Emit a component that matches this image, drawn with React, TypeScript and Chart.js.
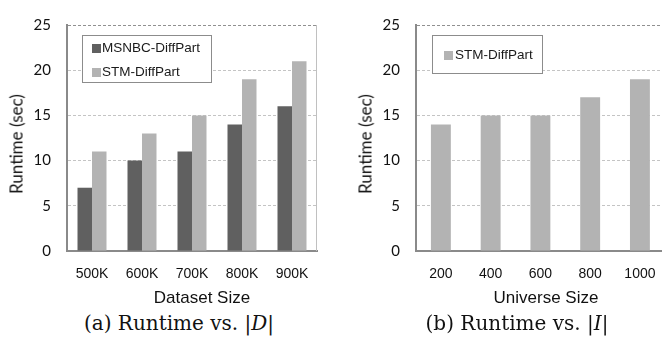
import React, { useEffect, useRef } from "react";
import { Chart, registerables } from "chart.js";

Chart.register(...registerables);

// ---- data ----
const datasetSizes = ["500K", "600K", "700K", "800K", "900K"];
const msnbcBySize = [7, 10, 11, 14, 16];
const stmBySize = [11, 13, 15, 19, 21];
const universeSizes = ["200", "400", "600", "800", "1000"];
const stmByUniverse = [14, 15, 15, 17, 19];
const yMin = 0;
const yMax = 25;
const yStep = 5;

const DARK = "#606060";
const LIGHT = "#b3b3b3";

const boxLegend = {
  id: "boxLegend",
  afterDraw(chart: any, _args: any, opts: any) {
    if (!opts || !opts.show) return;
    const { ctx, chartArea } = chart;
    const x = Math.round(chartArea.left + opts.dx);
    const y = Math.round(chartArea.top + opts.dy);
    ctx.save();
    ctx.fillStyle = "#ffffff";
    ctx.fillRect(x, y, opts.w, opts.h);
    ctx.strokeStyle = "#8c8c8c";
    ctx.lineWidth = 1;
    ctx.strokeRect(x + 0.5, y + 0.5, opts.w - 1, opts.h - 1);
    ctx.font = "13.5px 'Liberation Sans', Arial, sans-serif";
    ctx.textBaseline = "middle";
    ctx.textAlign = "left";
    chart.data.datasets.forEach((ds: any, i: number) => {
      const cy = y + opts.firstRow + i * opts.rowGap;
      ctx.fillStyle = ds.backgroundColor;
      ctx.fillRect(x + opts.markerX, Math.round(cy - 4.5), 9, 9);
      ctx.fillStyle = "#1a1a1a";
      ctx.fillText(ds.label, x + opts.textX, cy + 0.5);
    });
    ctx.restore();
  },
};

const frameRight = {
  id: "frameRight",
  afterDraw(chart: any, _args: any, opts: any) {
    if (!opts || !opts.show) return;
    const { ctx, chartArea } = chart;
    ctx.save();
    ctx.strokeStyle = "#c0c0c0";
    ctx.lineWidth = 1;
    ctx.beginPath();
    const xr = Math.round(chartArea.right) - 0.5;
    ctx.moveTo(xr, chartArea.top);
    ctx.lineTo(xr, chartArea.bottom);
    ctx.stroke();
    ctx.restore();
  },
};

type PanelProps = {
  left: number;
  width: number;
  height: number;
  padRight: number;
  axisWidth: number;
  labels: string[];
  datasets: any[];
  catPct: number;
  legend: any;
  frame: boolean;
};

function BarPanel(p: PanelProps) {
  const ref = useRef<HTMLCanvasElement | null>(null);
  useEffect(() => {
    if (!ref.current) return;
    const chart = new Chart(ref.current, {
      type: "bar",
      data: { labels: p.labels, datasets: p.datasets },
      plugins: [boxLegend, frameRight],
      options: {
        animation: false,
        responsive: false,
        devicePixelRatio: 1,
        layout: { padding: { left: 0, right: p.padRight, top: 14, bottom: 0 } },
        datasets: {
          bar: { categoryPercentage: p.catPct, barPercentage: 1.0 },
        },
        plugins: {
          legend: { display: false },
          tooltip: { enabled: false },
          title: { display: false },
          boxLegend: p.legend,
          frameRight: { show: p.frame },
        } as any,
        scales: {
          x: {
            offset: true,
            grid: { display: false, drawTicks: false },
            border: { display: true, color: "#8a8a8a", width: 2 },
            ticks: {
              padding: 15,
              color: "#111111",
              font: { family: "'Liberation Sans', Arial, sans-serif", size: 14 },
              maxRotation: 0,
              autoSkip: false,
            },
            afterFit: (s: any) => {
              s.height = 55;
            },
          },
          y: {
            min: yMin,
            max: yMax,
            ticks: {
              stepSize: yStep,
              padding: 16,
              color: "#111111",
              font: { family: "Lato, 'Open Sans', sans-serif", size: 15 },
            },
            grid: {
              drawTicks: false,
              lineWidth: 1,
              color: (c: any) =>
                c.tick && c.tick.value === yMax
                  ? "#909090"
                  : c.tick && c.tick.value === yMin
                  ? "rgba(0,0,0,0)"
                  : "#c4c4c4",
            },
            border: { display: true, color: "#8a8a8a", width: 2, dash: [3, 2] },
            afterFit: (s: any) => {
              s.width = p.axisWidth;
            },
          },
        },
      } as any,
    });
    return () => chart.destroy();
  }, []);
  return (
    <canvas
      ref={ref}
      width={p.width}
      height={p.height}
      style={{ position: "absolute", left: p.left, top: 0, width: p.width, height: p.height }}
    />
  );
}

const sans = "'Liberation Sans', Arial, sans-serif";
const serif = "'DejaVu Serif', 'Liberation Serif', serif";

function Label(props: { x: number; y: number; text: React.ReactNode; font: string; size: number; rotate?: boolean }) {
  return (
    <div
      style={{
        position: "absolute",
        left: props.x,
        top: props.y,
        transform: `translate(-50%, -50%)${props.rotate ? " rotate(-90deg)" : ""}`,
        whiteSpace: "nowrap",
        fontFamily: props.font,
        fontSize: props.size,
        lineHeight: 1,
        color: "#111",
      }}
    >
      {props.text}
    </div>
  );
}

export default function App() {
  return (
    <div
      style={{
        position: "fixed",
        left: 0,
        top: 0,
        width: 662,
        height: 339,
        overflow: "hidden",
        background: "#fff",
      }}
    >
      <BarPanel
        left={0}
        width={331}
        height={306}
        padRight={14}
        axisWidth={67}
        labels={datasetSizes}
        catPct={0.58}
        frame={true}
        datasets={[
          { label: "MSNBC-DiffPart", data: msnbcBySize, backgroundColor: DARK },
          { label: "STM-DiffPart", data: stmBySize, backgroundColor: LIGHT },
        ]}
        legend={{ show: true, dx: 15, dy: 10, w: 130, h: 48, firstRow: 13, rowGap: 24, markerX: 10, textX: 20 }}
      />
      <BarPanel
        left={331}
        width={340}
        height={306}
        padRight={5}
        axisWidth={85}
        labels={universeSizes}
        catPct={0.4}
        frame={false}
        datasets={[{ label: "STM-DiffPart", data: stmByUniverse, backgroundColor: LIGHT }]}
        legend={{ show: true, dx: 16, dy: 10, w: 111, h: 39, firstRow: 20, rowGap: 24, markerX: 12, textX: 23 }}
      />
      <Label x={16} y={144} text="Runtime (sec)" font="Lato, 'Open Sans', sans-serif" size={17} rotate />
      <Label x={365} y={144} text="Runtime (sec)" font="Lato, 'Open Sans', sans-serif" size={17} rotate />
      <Label x={202} y={297} text="Dataset Size" font={sans} size={17} />
      <Label x={546} y={297} text="Universe Size" font={sans} size={17} />
      <Label
        x={179}
        y={323}
        font={serif}
        size={20}
        text={
          <span>
            (a) Runtime vs. |<i>D</i>|
          </span>
        }
      />
      <Label
        x={517}
        y={323}
        font={serif}
        size={20}
        text={
          <span>
            (b) Runtime vs. |<i>I</i>|
          </span>
        }
      />
    </div>
  );
}
